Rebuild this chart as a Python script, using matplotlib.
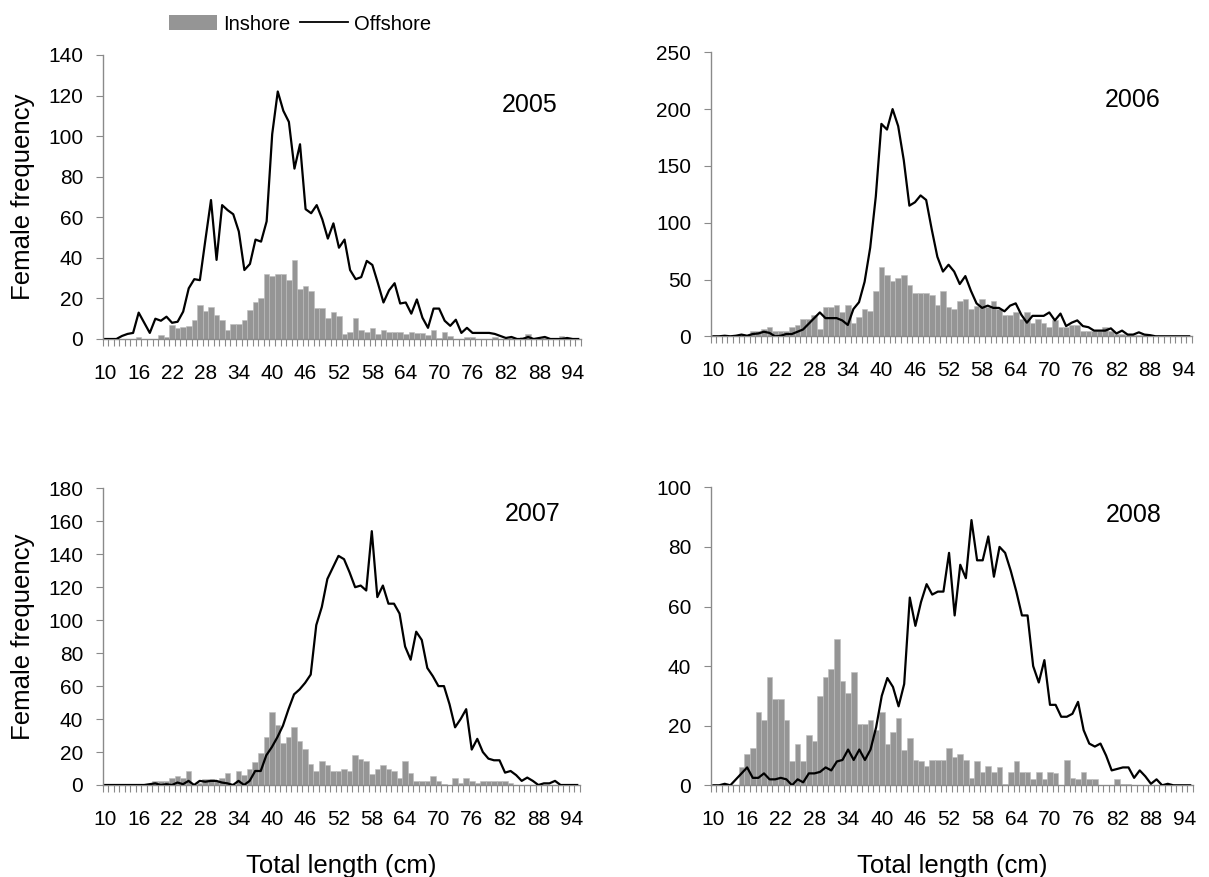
import numpy as np
import matplotlib
matplotlib.use('Agg')
import matplotlib.pyplot as plt
from matplotlib.patches import Patch
from matplotlib.lines import Line2D

plt.rcParams['font.family'] = ['Liberation Sans', 'DejaVu Sans']

lengths = np.arange(10, 96)
xtick_labels = np.arange(10, 95, 6)

offshore_2005 = [0, 0, 0, 1.5, 2.5, 3, 13, 8, 3, 10, 9, 11, 8, 8.5, 13.5, 25, 29.5, 29, 49, 68.5,
                 39, 66, 63.5, 61.5, 53, 34, 37, 49, 48, 58, 101, 122, 112.5, 107, 84, 96, 64, 62, 66, 59,
                 49.5, 57, 45, 49, 34, 29.5, 30.5, 38.5, 36.5, 27.5, 18, 24, 27.5, 17.5, 18, 12.5, 19.5, 10.5, 5.5, 15,
                 15, 9, 6.5, 9.5, 3, 5.5, 3, 3, 3, 3, 2.5, 1.5, 0.5, 1, 0, 0, 1, 0, 0.5, 1,
                 0, 0, 0, 0.5, 0, 0]
inshore_2005 = [0, 0, 0, 0, 0, 0, 1, 0, 0, 0, 2, 1, 7, 5.5, 6, 6.5, 9.5, 17, 14, 16,
                12, 9.5, 4.5, 7.5, 7.5, 9.5, 14.5, 18, 20, 32, 31, 32, 32, 29, 39, 24.5, 26, 23.5, 15.5, 15.5,
                10.5, 13.5, 11.5, 2.5, 3.5, 10.5, 4.5, 3.5, 5.5, 2.5, 4.5, 3.5, 3.5, 3.5, 2.5, 3.5, 3, 3, 2, 4.5,
                0.5, 3.5, 1.5, 0, 0, 1, 1, 0, 0, 0, 1, 0, 0, 0.5, 0, 1, 2.5, 0, 0, 0.5,
                0, 0, 1.5, 0, 0, 0]

offshore_2006 = [0, 0, 0.5, 0, 0.5, 1.5, 0.5, 2, 2.5, 4, 3, 0, 0.5, 2, 2, 4, 6, 11, 16, 21,
                 16, 16, 16, 14, 10, 24, 30, 48, 78, 123, 187, 182, 200, 185, 155, 115, 118, 124, 120, 94,
                 70, 57, 63, 57, 46, 53, 40, 29, 25, 27, 25, 25, 22, 27, 29, 19, 12, 18, 18, 18,
                 21, 14, 20, 9, 12, 14, 9, 8, 5, 5, 5, 7, 2.5, 5, 1.5, 1.5, 3.5, 1.5, 1, 0,
                 0, 0, 0, 0, 0, 0]
inshore_2006 = [0, 0, 0, 0, 1, 1, 1, 5, 5, 6, 8.5, 5, 5, 5, 8.5, 10, 15.5, 15.5, 19, 6.5,
                26, 26, 27.5, 21, 27.5, 11.5, 17, 24, 22.5, 40, 61, 54, 49, 51, 54, 45, 38, 38, 38, 36,
                27.5, 40, 26, 24, 31, 33, 24, 27, 33, 26, 31, 24, 19, 19, 21, 15.5, 21, 12, 15.5, 12,
                8.5, 14, 8.5, 8.5, 10, 10, 5, 5, 5, 5, 8, 5, 2, 2, 1, 1, 1, 1, 0, 0,
                0, 0, 0, 0, 0, 0]

offshore_2007 = [0, 0, 0, 0, 0, 0, 0, 0, 0.5, 1, 0, 0.5, 0, 1.5, 0.5, 2.5, 0, 2.5, 2, 2.5,
                 2.5, 1.5, 1, 0, 2.5, 0, 2.5, 8.5, 8.5, 18, 23, 29, 36, 46, 55, 58, 62, 67, 97, 108,
                 125, 132, 139, 137, 129, 120, 121, 118, 154, 114, 121, 110, 110, 104, 84, 76, 93, 88, 71, 66,
                 60, 60, 49, 35, 40, 46, 21.5, 28, 20, 16, 15, 15, 7.5, 8.5, 6, 2.5, 4.5, 2.5, 0, 1,
                 1, 2.5, 0, 0, 0, 0]
inshore_2007 = [0, 0, 0, 0, 0, 0, 0, 0, 0, 2.5, 2.5, 2.5, 4.5, 5.5, 4.5, 8.5, 0, 1.5, 3.5, 3.5,
                2.5, 4.5, 7, 0, 8.5, 6, 9.5, 14, 19.5, 29, 44, 36.5, 25.5, 29, 35, 26.5, 22, 13, 8.5, 14.5,
                12, 8.5, 8.5, 9.5, 8.5, 18, 16, 14.5, 6.5, 9.5, 12, 9.5, 8.5, 4.5, 14.5, 7, 2.5, 2.5, 2.5, 5.5,
                2.5, 0.5, 0, 4.5, 1.5, 4.5, 2.5, 1.5, 2.5, 2.5, 2.5, 2.5, 2.5, 1, 0, 0, 0, 0, 0, 0,
                0, 0, 0, 0, 0, 0]

offshore_2008 = [0, 0, 0.5, 0, 2, 4, 6, 2.5, 2.5, 4, 2, 2, 2.5, 2, 0, 2, 1, 4, 4, 4.5,
                 6, 5, 8, 8.5, 12, 8.5, 12, 8.5, 12, 19.5, 30, 36, 33, 26.5, 34, 63, 53.5, 61.5, 67.5, 64,
                 65, 65, 78, 57, 74, 69.5, 89, 75.5, 75.5, 83.5, 70, 80, 78, 72, 65, 57, 57, 40, 34.5, 42,
                 27, 27, 23, 23, 24, 28, 18.5, 14, 13, 14, 10, 5, 5.5, 6, 6, 2.5, 5, 3, 0.5, 2,
                 0, 0.5, 0, 0, 0, 0]
inshore_2008 = [0, 0, 0, 0, 0, 6, 10.5, 12.5, 24.5, 22, 36.5, 29, 29, 22, 8, 14, 8, 17, 15, 30,
                36.5, 39, 49, 35, 31, 38, 20.5, 20.5, 22, 18.5, 24.5, 14, 18, 22.5, 12, 16, 8.5, 8, 6.5, 8.5,
                8.5, 8.5, 12.5, 9.5, 10.5, 8.5, 2.5, 8, 4.5, 6.5, 4.5, 6, 0.5, 4.5, 8, 4.5, 4.5, 2, 4.5, 2,
                4.5, 4, 0, 8.5, 2.5, 2, 4.5, 2, 2, 0, 0, 0, 2, 0.5, 0.5, 0, 0, 0, 0, 0,
                0, 0, 0, 0, 0, 0]

years = ['2005', '2006', '2007', '2008']
inshore = [inshore_2005, inshore_2006, inshore_2007, inshore_2008]
offshore = [offshore_2005, offshore_2006, offshore_2007, offshore_2008]
ymax = [140, 250, 180, 100]
ystep = [20, 50, 20, 20]

W, H = 1209, 877
# axes boxes in pixels: left, top, right, bottom
boxes = [(102.5, 55, 581, 339), (710.7, 52.3, 1192, 336.3),
         (102.5, 488.3, 580, 785), (710.7, 487.3, 1193, 785.3)]
year_pos = [(0.893, 0.824), (0.877, 0.832), (0.90, 0.914), (0.876, 0.907)]

bar_col = '#959595'
axis_col = '#8a8a8a'

fig = plt.figure(figsize=(W / 100, H / 100), dpi=100)

for k in range(4):
    l, t, r, b = boxes[k]
    ax = fig.add_axes([l / W, 1 - b / H, (r - l) / W, (b - t) / H])
    ax.bar(lengths, inshore[k], width=1.0, color=bar_col, edgecolor='#bdbdbd', linewidth=0.4, zorder=2)
    ax.plot(lengths, offshore[k], color='black', lw=1.6, zorder=3)
    ax.set_xlim(9.5, 95.5)
    ax.set_ylim(0, ymax[k])
    ax.set_yticks(np.arange(0, ymax[k] + 1, ystep[k]))
    ax.set_xticks(xtick_labels)
    ax.set_xticks(np.arange(9.5, 96, 1), minor=True)
    ax.tick_params(axis='x', which='major', length=0, pad=18, labelsize=15)
    ax.tick_params(axis='x', which='minor', length=5, width=0.8, color=axis_col, direction='out')
    ax.tick_params(axis='y', length=5, width=0.8, color=axis_col, pad=9, labelsize=15)
    for s in ['top', 'right']:
        ax.spines[s].set_visible(False)
    for s in ['left', 'bottom']:
        ax.spines[s].set_color(axis_col)
        ax.spines[s].set_linewidth(1.0)
    ax.text(year_pos[k][0], year_pos[k][1], years[k], transform=ax.transAxes,
            ha='center', va='center', fontsize=18)
    if k in (0, 2):
        ax.set_ylabel('Female frequency', fontsize=18.5, labelpad=9)
    if k in (2, 3):
        ax.set_xlabel('Total length (cm)', fontsize=18.5, labelpad=18)

handles = [Patch(facecolor=bar_col, edgecolor='none'), Line2D([], [], color='black', lw=1.3)]
fig.legend(handles, ['Inshore', 'Offshore'], loc='center', bbox_to_anchor=(300 / W, 1 - 24 / H),
           ncol=2, frameon=False, fontsize=14.5, handlelength=2.4, handleheight=0.7,
           handletextpad=0.3, columnspacing=0.45)

fig.savefig('out.png', dpi=100)
